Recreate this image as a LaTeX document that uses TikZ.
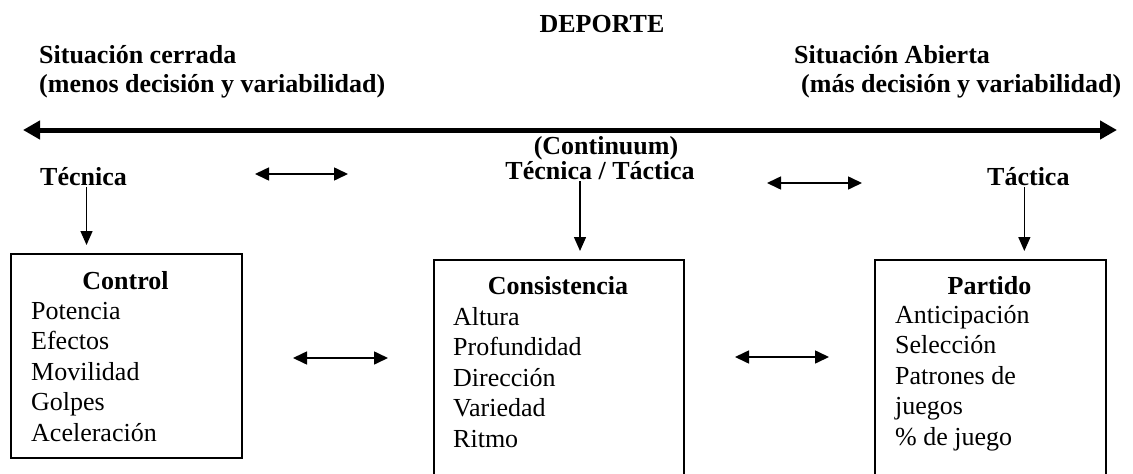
\documentclass[tikz,border=0pt]{standalone}
\usepackage{fontspec}
\setmainfont{Liberation Serif}
\usetikzlibrary{arrows.meta}
\begin{document}
\begin{tikzpicture}[x=1pt,y=-1pt,
  lbl/.style={inner sep=0pt,font=\fontsize{26}{30}\selectfont\bfseries},
  itm/.style={inner sep=0pt,anchor=base west,font=\fontsize{26}{30}\selectfont},
  box/.style={draw,line width=1.6pt,inner sep=0pt,anchor=north west},
  tip/.style={line width=1.4pt,shorten <=2pt,shorten >=8pt,-{Triangle[length=14pt,width=12pt]}},
  dbl/.style={line width=1.6pt,{Triangle[length=14pt,width=13pt]}-{Triangle[length=14pt,width=13pt]}}]
\useasboundingbox (0,0) rectangle (1133,474);
\pgfmathsetmacro{\ls}{30.5}

\node[lbl,anchor=base] (deporte) at (602,32) {DEPORTE};
\node[lbl,anchor=base west] (cerrada) at (39,63) {Situación cerrada};
\node[lbl,anchor=base west] (menos) at (39,92) {(menos decisión y variabilidad)};
\node[lbl,anchor=base west] (abierta) at (794,63) {Situación Abierta};
\node[lbl,anchor=base west] (mas) at (801,92) {(más decisión y variabilidad)};

\coordinate (cl) at (23,130);
\coordinate (cr) at (1117,130);
\draw[line width=5pt,{Triangle[length=17pt,width=18pt]}-{Triangle[length=17pt,width=18pt]}] (cl) -- (cr);

\node[lbl,anchor=base] (continuum) at (606,154) {(Continuum)};
\node[lbl,anchor=base west] (tecnica) at (40,185) {Técnica};
\node[lbl,anchor=base] (tectac) at (600,179) {Técnica / Táctica};
\node[lbl,anchor=base west] (tactica) at (987,185) {Táctica};

\coordinate (ta1) at (255,174);
\coordinate (tb1) at (348,174);
\coordinate (ta2) at (767,183);
\coordinate (tb2) at (862,183);
\draw[dbl] (ta1) -- (tb1);
\draw[dbl] (ta2) -- (tb2);

\node[box,minimum width=231pt,minimum height=204pt] (control) at (10,253) {};
\node[box,minimum width=250pt,minimum height=240pt] (consis) at (433,259) {};
\node[box,minimum width=231pt,minimum height=240pt] (partido) at (874,259) {};

\draw[tip] ([xshift=3pt]tecnica.south) -- ([xshift=3pt]tecnica.south |- control.north);
\draw[tip] ([xshift=-20pt]tectac.south) -- ([xshift=-20pt]tectac.south |- consis.north);
\draw[tip] ([xshift=-4pt]tactica.south) -- ([xshift=-4pt]tactica.south |- partido.north);

\node[lbl,anchor=base] (controlt) at (125.5,289) {Control};
\node[lbl,anchor=base] (consist) at (558,294) {Consistencia};
\node[lbl,anchor=base] (partidot) at (989.5,294) {Partido};

\foreach \t [count=\i] in {Potencia,Efectos,Movilidad,Golpes,Aceleración}
  \node[itm] (ctl\i) at (31,{319+\ls*(\i-1)}) {\t};
\foreach \t [count=\i] in {Altura,Profundidad,Dirección,Variedad,Ritmo}
  \node[itm] (cns\i) at (453,{325+\ls*(\i-1)}) {\t};
\foreach \t [count=\i] in {Anticipación,Selección,Patrones de,juegos,\% de juego}
  \node[itm] (prt\i) at (895,{323+\ls*(\i-1)}) {\t};

\coordinate (ba1) at (293,358);
\coordinate (bb1) at (388,358);
\coordinate (ba2) at (735,357);
\coordinate (bb2) at (829,357);
\draw[dbl] (ba1) -- (bb1);
\draw[dbl] (ba2) -- (bb2);
\end{tikzpicture}
\end{document}
